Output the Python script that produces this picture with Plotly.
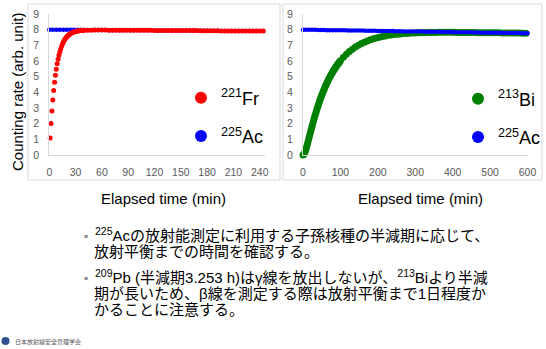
import plotly.graph_objects as go

# ---------------- data ----------------
# Left panel: 225Ac -> 221Fr (minutes)
fr_time_early = list(range(1, 41))
fr_rate_early = [1.08, 2.01, 2.81, 3.51, 4.11, 4.64, 5.09, 5.48, 5.82, 6.11,
                 6.36, 6.58, 6.77, 6.94, 7.08, 7.20, 7.31, 7.40, 7.48, 7.55,
                 7.61, 7.66, 7.70, 7.74, 7.77, 7.80, 7.83, 7.85, 7.87, 7.88,
                 7.90, 7.91, 7.92, 7.93, 7.94, 7.94, 7.95, 7.95, 7.96, 7.96]
fr_time_late = list(range(44, 245, 4))
fr_rate_late = [7.97, 7.97, 7.98, 7.98, 7.98, 7.98,
                7.97, 7.97, 7.97, 7.97, 7.97, 7.97,
                7.96, 7.96, 7.96, 7.96, 7.96, 7.96, 7.96,
                7.95, 7.95, 7.95, 7.95, 7.95, 7.95,
                7.94, 7.94, 7.94, 7.94, 7.94, 7.94, 7.94,
                7.93, 7.93, 7.93, 7.93, 7.93, 7.93,
                7.92, 7.92, 7.92, 7.92, 7.92, 7.92, 7.92,
                7.91, 7.91, 7.91, 7.91, 7.91, 7.91]
ac_left_time = list(range(0, 245, 4))
ac_left_rate = [8.00, 8.00, 8.00, 8.00,
                7.99, 7.99, 7.99, 7.99, 7.99, 7.99,
                7.98, 7.98, 7.98, 7.98, 7.98, 7.98, 7.98,
                7.97, 7.97, 7.97, 7.97, 7.97, 7.97,
                7.96, 7.96, 7.96, 7.96, 7.96, 7.96, 7.96,
                7.95, 7.95, 7.95, 7.95, 7.95, 7.95,
                7.94, 7.94, 7.94, 7.94, 7.94, 7.94, 7.94,
                7.93, 7.93, 7.93, 7.93, 7.93, 7.93,
                7.92, 7.92, 7.92, 7.92, 7.92, 7.92, 7.92,
                7.91, 7.91, 7.91, 7.91, 7.91, 7.91]

# Right panel: 225Ac -> 213Bi (minutes)
bi_time_early = list(range(0, 101, 2))
bi_rate_early = [0.00, 0.03, 0.11, 0.23, 0.38, 0.54, 0.72, 0.90, 1.08, 1.27,
                 1.45, 1.64, 1.82, 2.00, 2.17, 2.34, 2.51, 2.67, 2.83, 2.98,
                 3.13, 3.27, 3.41, 3.55, 3.68, 3.81, 3.93, 4.06, 4.17, 4.29,
                 4.40, 4.50, 4.61, 4.71, 4.80, 4.90, 4.99, 5.08, 5.16, 5.25,
                 5.33, 5.41, 5.48, 5.56, 5.63, 5.70, 5.77, 5.83, 5.89, 5.96,
                 6.02]
bi_time_late = list(range(108, 601, 8))
bi_rate_late = [6.24, 6.43, 6.60, 6.75, 6.89, 7.01, 7.11, 7.20, 7.28, 7.36,
                7.42, 7.47, 7.52, 7.57, 7.60, 7.64, 7.66, 7.69, 7.71, 7.73,
                7.75, 7.76, 7.77, 7.78, 7.79, 7.80, 7.81, 7.81, 7.82, 7.82,
                7.82, 7.82, 7.83, 7.83, 7.83, 7.83, 7.83, 7.83, 7.82, 7.82,
                7.82, 7.82, 7.82, 7.82, 7.82, 7.81, 7.81, 7.81, 7.81, 7.80,
                7.80, 7.80, 7.80, 7.79, 7.79, 7.79, 7.79, 7.78, 7.78, 7.78,
                7.77, 7.77]
ac_right_time = list(range(0, 601, 8))
ac_right_rate = [8.00, 8.00, 7.99, 7.99, 7.99, 7.98, 7.98, 7.98, 7.97, 7.97,
                 7.97, 7.97, 7.96, 7.96, 7.96, 7.95, 7.95, 7.95, 7.94, 7.94,
                 7.94, 7.93, 7.93, 7.93, 7.93, 7.92, 7.92, 7.92, 7.91, 7.91,
                 7.91, 7.90, 7.90, 7.90, 7.89, 7.89, 7.89, 7.88, 7.88, 7.88,
                 7.88, 7.87, 7.87, 7.87, 7.86, 7.86, 7.86, 7.85, 7.85, 7.85,
                 7.84, 7.84, 7.84, 7.84, 7.83, 7.83, 7.83, 7.82, 7.82, 7.82,
                 7.81, 7.81, 7.81, 7.80, 7.80, 7.80, 7.80, 7.79, 7.79, 7.79,
                 7.78, 7.78, 7.78, 7.77, 7.77, 7.77]

assert len(fr_time_early) == len(fr_rate_early)
assert len(fr_time_late) == len(fr_rate_late)
assert len(ac_left_time) == len(ac_left_rate)
assert len(bi_time_early) == len(bi_rate_early)
assert len(bi_time_late) == len(bi_rate_late)
assert len(ac_right_time) == len(ac_right_rate)

left_ticks = [0, 30, 60, 90, 120, 150, 180, 210, 240]
right_ticks = [0, 100, 200, 300, 400, 500, 600]
y_ticks = [0, 1, 2, 3, 4, 5, 6, 7, 8, 9]

x_title = "Elapsed time (min)"
y_title = "Counting rate (arb. unit)"
bullet_lines = [
    "<sup>225</sup>Acの放射能測定に利用する子孫核種の半減期に応じて、",
    "放射平衡までの時間を確認する。",
    "<sup>209</sup>Pb (半減期3.253 h)はγ線を放出しないが、<sup>213</sup>Biより半減",
    "期が長いため、β線を測定する際は放射平衡まで1日程度か",
    "かることに注意する。",
]
footer = "日本放射線安全管理学会"

RED, BLUE, GREEN = "#ff0000", "#0000ff", "#008000"
W, H = 546, 349
LAT = "Arial, 'Liberation Sans', 'Noto Sans CJK JP', sans-serif"


def px(x):
    return x / W


def py(y):
    return 1 - y / H


fig = go.Figure()

# left panel
fig.add_trace(go.Scatter(x=ac_left_time, y=ac_left_rate, mode="markers",
                         marker=dict(color=BLUE, size=4.5), name="<sup>225</sup>Ac",
                         xaxis="x", yaxis="y", legend="legend", legendgroup="a1",
                         legendrank=2, cliponaxis=False))
fig.add_trace(go.Scatter(x=fr_time_early + fr_time_late, y=fr_rate_early + fr_rate_late,
                         mode="markers", marker=dict(color=RED, size=5),
                         name="<sup>221</sup>Fr", xaxis="x", yaxis="y",
                         legend="legend", legendgroup="f1", legendrank=1,
                         cliponaxis=False))
# right panel
fig.add_trace(go.Scatter(x=bi_time_early + bi_time_late, y=bi_rate_early + bi_rate_late,
                         mode="markers", marker=dict(color=GREEN, size=7),
                         name="<sup>213</sup>Bi", xaxis="x2", yaxis="y2",
                         legend="legend2", legendgroup="b2", legendrank=1,
                         cliponaxis=False))
fig.add_trace(go.Scatter(x=ac_right_time, y=ac_right_rate, mode="markers",
                         marker=dict(color=BLUE, size=4.5), name="<sup>225</sup>Ac",
                         xaxis="x2", yaxis="y2", legend="legend2", legendgroup="a2",
                         legendrank=2, cliponaxis=False))

axis_common = dict(showgrid=False, zeroline=False, showline=True, linecolor="#d9d9d9",
                   linewidth=1, ticks="", automargin=False,
                   tickfont=dict(family=LAT, size=10.5, color="#595959"))

fig.update_layout(
    width=W, height=H, margin=dict(l=0, r=0, t=0, b=0, autoexpand=False),
    paper_bgcolor="white", plot_bgcolor="white", hovermode=False,
    xaxis=dict(domain=[px(49.3), px(265)], range=[0, 246], tickvals=left_ticks,
               anchor="y", ticklabelstandoff=7, **axis_common),
    yaxis=dict(domain=[py(155), py(14)], range=[0, 9], tickvals=y_ticks,
               anchor="x", ticklabelstandoff=7, **axis_common),
    xaxis2=dict(domain=[px(303), px(527.5)], range=[0, 600], tickvals=right_ticks,
                anchor="y2", ticklabelstandoff=7, **axis_common),
    yaxis2=dict(domain=[py(155), py(14)], range=[0, 9], tickvals=y_ticks,
                anchor="x2", ticklabelstandoff=7, **axis_common),
    legend=dict(x=px(181), y=py(117), xanchor="left", yanchor="middle",
                bgcolor="rgba(0,0,0,0)", itemsizing="constant", tracegroupgap=12,
                font=dict(family=LAT, size=18, color="#000000")),
    legend2=dict(x=px(458), y=py(118), xanchor="left", yanchor="middle",
                 bgcolor="rgba(0,0,0,0)", itemsizing="constant", tracegroupgap=12,
                 font=dict(family=LAT, size=18, color="#000000")),
)

# panel frames
for (x0, x1) in [(28, 280), (283, 542)]:
    fig.add_shape(type="rect", xref="paper", yref="paper",
                  x0=px(x0), x1=px(x1), y0=py(180), y1=py(4),
                  line=dict(color="#d9d9d9", width=1), fillcolor="rgba(0,0,0,0)",
                  layer="below")

# axis titles
fig.add_annotation(text=y_title, x=px(18), y=py(92), xref="paper", yref="paper",
                   textangle=-90, showarrow=False, xanchor="center", yanchor="middle",
                   font=dict(family=LAT, size=15, color="#000000"))
for cx in (163, 420):
    fig.add_annotation(text=x_title, x=px(cx), y=py(198), xref="paper", yref="paper",
                       showarrow=False, xanchor="center", yanchor="middle",
                       font=dict(family=LAT, size=15, color="#000000"))

# bullet text
line_y = [234, 251, 276, 293, 309]
line_x = [93, 92, 93, 92, 92]
for txt, yy, xx in zip(bullet_lines, line_y, line_x):
    fig.add_annotation(text=txt, x=px(xx), y=py(yy), xref="paper", yref="paper",
                       showarrow=False, xanchor="left", yanchor="middle",
                       font=dict(family=LAT, size=15, color="#000000"))
for yy in (line_y[0], line_y[2]):
    fig.add_annotation(text="▪", x=px(86), y=py(yy + 1), xref="paper", yref="paper",
                       showarrow=False, xanchor="center", yanchor="middle",
                       font=dict(family="DejaVu Sans", size=6, color="#8c8c8c"))

# footer logo
fig.add_shape(type="circle", xref="paper", yref="paper",
              x0=px(1.5), x1=px(9.5), y0=py(345), y1=py(337),
              fillcolor="#2f4f8f", line=dict(width=0))
fig.add_annotation(text=footer, x=px(13), y=py(341), xref="paper", yref="paper",
                   showarrow=False, xanchor="left", yanchor="middle",
                   font=dict(family="'Noto Sans CJK JP'", size=6, color="#555555"))

fig.write_html("out.html", config={"displayModeBar": False, "staticPlot": True},
               post_script="document.body.style.margin='0';"
                           "document.body.style.overflow='hidden';")
